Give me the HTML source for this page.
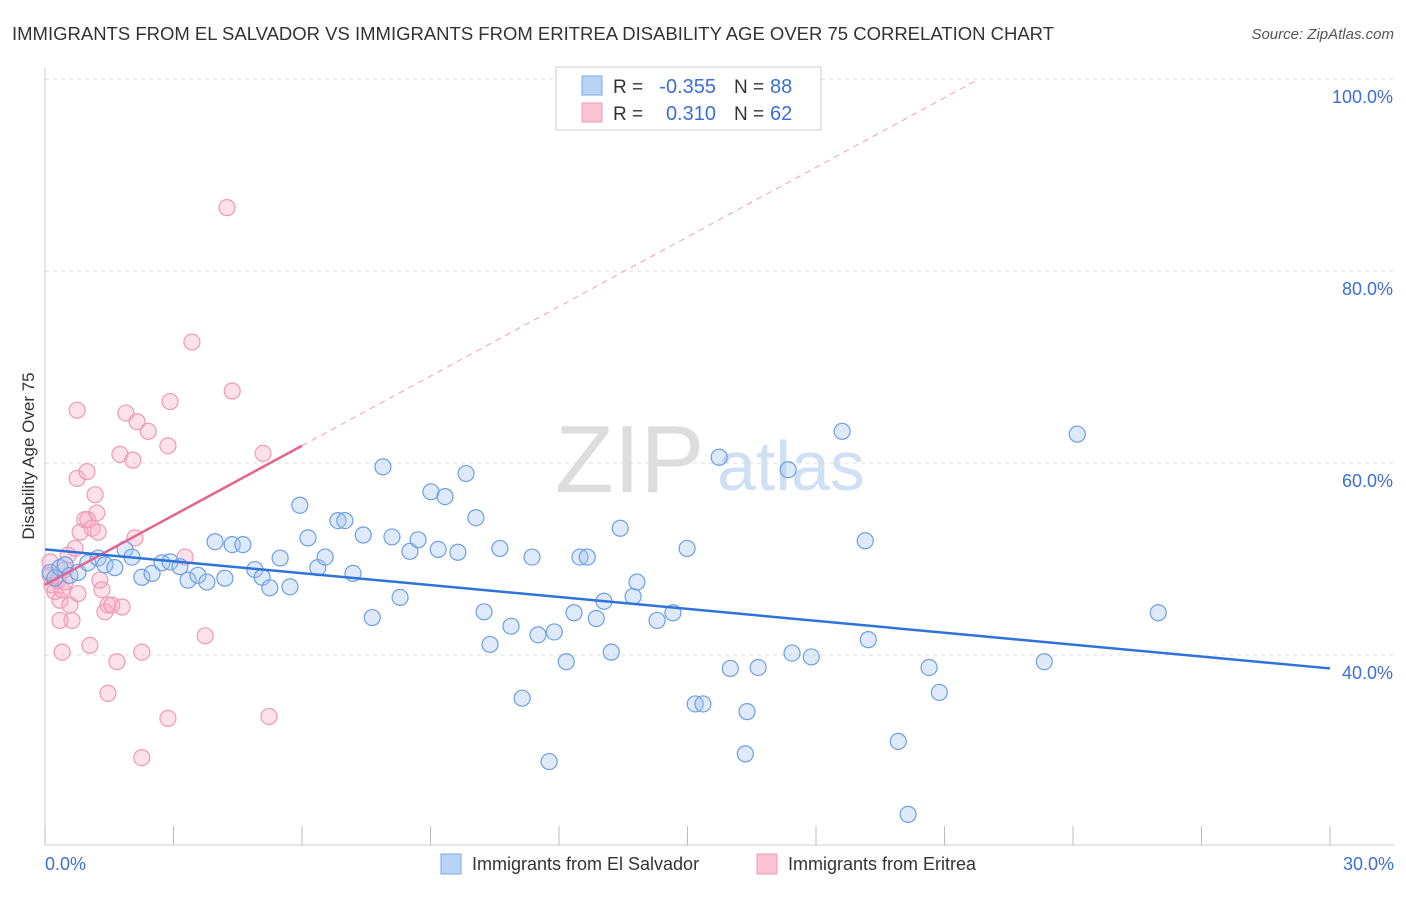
<!DOCTYPE html>
<html><head><meta charset="utf-8"><style>
body{margin:0;background:#fff;font-family:"Liberation Sans",sans-serif;}
svg text{font-family:"Liberation Sans",sans-serif;}
</style></head><body>
<svg id="c" width="1406" height="892" xmlns="http://www.w3.org/2000/svg">
<text x="12" y="40" font-size="18.5" fill="#333">IMMIGRANTS FROM EL SALVADOR VS IMMIGRANTS FROM ERITREA DISABILITY AGE OVER 75 CORRELATION CHART</text>
<text x="1394" y="39" font-size="15" fill="#555" text-anchor="end" font-style="italic">Source: ZipAtlas.com</text>
<text x="34" y="456" font-size="17" fill="#333" text-anchor="middle" transform="rotate(-90 34 456)">Disability Age Over 75</text>
<g><text x="555" y="492" font-size="96" fill="#ddd" font-family="Liberation Serif">ZIP</text><text x="717" y="490" font-size="70" fill="#cfe0f5">atlas</text></g>
<g id="grid"></g><g id="marks"></g>
<g>
<rect x="556" y="67" width="265" height="63" fill="#fff" stroke="#ccc"/>
<rect x="582" y="76" width="20" height="19" fill="#b8d3f5" stroke="#7fa9e6"/>
<rect x="582" y="103" width="20" height="19" fill="#f9c5d3" stroke="#ef9ab3"/>
<text x="613" y="93" font-size="19" fill="#333">R =</text>
<text x="716" y="93" font-size="20" fill="#3b6fd4" text-anchor="end">-0.355</text>
<text x="734" y="93" font-size="19" fill="#333">N =</text>
<text x="770" y="93" font-size="20" fill="#3b6fd4">88</text>
<text x="613" y="120" font-size="19" fill="#333">R =</text>
<text x="716" y="120" font-size="20" fill="#3b6fd4" text-anchor="end">0.310</text>
<text x="734" y="120" font-size="19" fill="#333">N =</text>
<text x="770" y="120" font-size="20" fill="#3b6fd4">62</text>
</g>
<g>
<rect x="441" y="854" width="20" height="20" fill="#b8d3f5" stroke="#7fa9e6"/>
<text x="472" y="870" font-size="18" fill="#333">Immigrants from El Salvador</text>
<rect x="757" y="854" width="20" height="20" fill="#f9c5d3" stroke="#ef9ab3"/>
<text x="788" y="870" font-size="18" fill="#333">Immigrants from Eritrea</text>
</g>
</svg>
<script>
const blueX=[0.12,0.23,0.35,0.47,0.58,0.77,1.00,1.24,1.40,1.63,1.87,2.03,2.26,2.50,2.73,2.92,3.15,3.34,3.57,3.78,3.97,4.20,4.37,4.62,4.90,5.07,5.25,5.49,5.72,5.95,6.14,6.37,6.54,6.84,7.00,7.19,7.43,7.64,7.89,8.10,8.29,8.52,8.71,9.01,9.18,9.34,9.64,9.83,10.06,10.25,10.39,10.62,10.88,11.14,11.37,11.51,11.77,11.89,12.17,12.35,12.49,12.66,12.87,13.05,13.22,13.43,13.73,13.82,14.29,14.66,14.99,15.18,15.36,15.74,16.00,16.39,16.35,16.65,17.35,17.44,17.89,18.61,19.15,19.22,19.92,20.15,20.64,20.88,23.33,24.10,25.99];
const blueY=[48.6,48.0,49.1,49.4,48.3,48.6,49.6,50.1,49.4,49.1,51.0,50.2,48.1,48.5,49.6,49.7,49.2,47.8,48.3,47.6,51.8,48.0,51.5,51.5,48.9,48.1,47.0,50.1,47.1,55.6,52.2,49.1,50.2,54.0,54.0,48.5,52.5,43.9,59.6,52.3,46.0,50.8,52.0,57.0,51.0,56.5,50.7,58.9,54.3,44.5,41.1,51.1,43.0,35.5,50.2,42.1,28.9,42.4,39.3,44.4,50.2,50.2,43.8,45.6,40.3,53.2,46.1,47.6,43.6,44.4,51.1,34.9,34.9,60.6,38.6,34.1,29.7,38.7,59.3,40.2,39.8,63.3,51.9,41.6,31.0,23.4,38.7,36.1,39.3,63.0,44.4];
const pinkX=[0.12,0.12,0.16,0.23,0.30,0.35,0.40,0.47,0.47,0.54,0.58,0.63,0.40,0.70,0.75,0.75,0.77,0.82,0.93,0.98,1.00,1.05,1.10,1.17,1.21,1.24,1.28,1.33,1.40,1.47,1.47,1.56,1.68,1.80,1.75,1.89,2.05,2.15,2.10,2.26,2.26,2.41,2.87,2.87,2.92,3.27,3.43,3.74,4.25,4.37,5.09,5.23,0.35];
const pinkY=[49.7,48.3,47.3,46.6,47.8,45.7,46.8,48.9,47.6,50.4,45.2,43.6,40.3,51.1,65.5,58.4,46.4,52.8,54.1,59.1,54.1,41.0,53.2,56.7,54.8,52.8,47.8,46.8,44.5,45.2,36.0,45.2,39.3,45.0,60.9,65.2,60.3,64.3,52.2,40.3,29.3,63.3,61.8,33.4,66.4,50.2,72.6,42.0,86.6,67.5,61.0,33.6,43.6];
const blueTrend=[51.0,38.6];
const pinkTrend=[47.3,61.8,6];
const yTicks=[100,80,60,40];
const yLabels=["100.0%","80.0%","60.0%","40.0%"];
const xTicks=[0,3,6,9,12,15,18,21,24,27,30];
const sx=v=>45+v/30*1285, sy=v=>79+(100-v)*9.6;
const NS="http://www.w3.org/2000/svg";
function mk(p,t,a){const e=document.createElementNS(NS,t);for(const k in a)e.setAttribute(k,a[k]);p.appendChild(e);return e;}
const g=document.getElementById('grid'), m=document.getElementById('marks');
yTicks.forEach((v,i)=>{
 const l=mk(g,'line',{x1:45,x2:1394,y1:sy(v),y2:sy(v),stroke:'#ddd','stroke-dasharray':'4,4'});
 
 
 const t=mk(g,'text',{x:1393,y:sy(v)+24,'font-size':18,fill:'#3b6fd4','text-anchor':'end'});
 t.textContent=yLabels[i];
 
 
});
const ax=mk(g,'line',{x1:45,x2:1394,y1:845,y2:845,stroke:'#ccc'});


const ay=mk(g,'line',{x1:45,x2:45,y1:68,y2:845,stroke:'#ccc'});


xTicks.forEach(v=>{const l=mk(g,'line',{x1:sx(v),x2:sx(v),y1:826,y2:845,stroke:'#bbb'});
 
 });
[[0,"0.0%","start",45],[30,"30.0%","end",1394]].forEach(a=>{const t=mk(g,'text',{x:a[3],y:870,'font-size':18,fill:'#3b6fd4','text-anchor':a[2]});t.textContent=a[1];
 
 });
pinkX.forEach((x,i)=>{const c=mk(m,'circle',{cx:sx(x),cy:sy(pinkY[i]),r:8,fill:'rgba(246,170,195,0.35)',stroke:'#ef9ab3','stroke-width':1.2});
 
 });
blueX.forEach((x,i)=>{const c=mk(m,'circle',{cx:sx(x),cy:sy(blueY[i]),r:8,fill:'rgba(160,195,240,0.35)',stroke:'#6d9ee3','stroke-width':1.2});
 
 });
const slope=(pinkTrend[1]-pinkTrend[0])/pinkTrend[2];
const xEnd=(100-pinkTrend[0])/slope;
const pd=mk(m,'line',{x1:sx(pinkTrend[2]),y1:sy(pinkTrend[1]),x2:sx(xEnd),y2:sy(100),stroke:'#f0a0b8','stroke-dasharray':'6,5','stroke-width':1});


const pl=mk(m,'line',{x1:sx(0),y1:sy(pinkTrend[0]),x2:sx(pinkTrend[2]),y2:sy(pinkTrend[1]),stroke:'#e8628e','stroke-width':2.5});


const bl=mk(m,'line',{x1:sx(0),y1:sy(blueTrend[0]),x2:sx(30),y2:sy(blueTrend[1]),stroke:'#2e73d8','stroke-width':2.5});


</script>
</body></html>
